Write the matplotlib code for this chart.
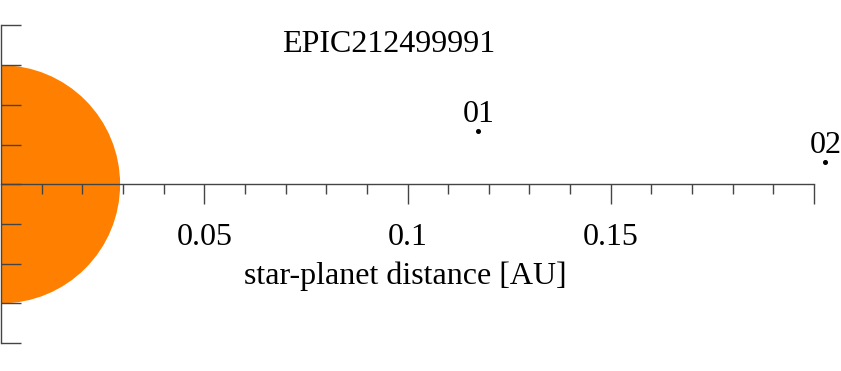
import numpy as np
import matplotlib
matplotlib.use("Agg")
import matplotlib.pyplot as plt
from matplotlib.patches import Circle

# system data
title = "EPIC212499991"
star_radius = 0.0293          # AU
planet_names = ["01", "02"]
planet_dist = [0.1174, 0.2028]    # AU
planet_y = [0.0132, 0.0056]
major_ticks = [0.05, 0.1, 0.15, 0.2]
major_labels = ["0.05", "0.1", "0.15", ""]

plt.rcParams["font.family"] = ["Liberation Serif", "DejaVu Serif"]

W, H = 841, 371
FS = 23
fig = plt.figure(figsize=(W / 100, H / 100), dpi=100)
ax_left, ax_w = 1, 813
ax = fig.add_axes([ax_left / W, 0, ax_w / W, 1])

scale = ax_w / 0.2  # px per AU
y_axis_px = 184.3
ax.set_xlim(0, 0.2)
ax.set_ylim(-(H - y_axis_px) / scale, y_axis_px / scale)

star = Circle((0, 0), star_radius, color="#FF8000", lw=0, zorder=1)
ax.add_patch(star)

ax.plot(planet_dist, planet_y, "o", color="black", ms=2.6, clip_on=False, zorder=3)
for name, x, y in zip(planet_names, planet_dist, planet_y):
    ax.annotate(name, (x, y), xytext=(0, 6.5), textcoords="offset points",
                ha="center", va="baseline", fontsize=FS, annotation_clip=False)

for s in ["top", "right"]:
    ax.spines[s].set_visible(False)
ax.spines["bottom"].set_position(("data", 0))
ax.spines["left"].set_position(("data", 0))
ax.spines["bottom"].set_bounds(0, 0.2)
ax.spines["left"].set_bounds(-4 * star_radius / 3, 4 * star_radius / 3)
for s in ["bottom", "left"]:
    ax.spines[s].set_color("#444444")
    ax.spines[s].set_linewidth(1.0)

ax.set_xticks(major_ticks)
ax.set_xticklabels(major_labels, fontsize=FS)
ax.set_xticks([m / 100 for m in range(1, 20) if m % 5 != 0], minor=True)
ax.tick_params(axis="x", which="major", direction="out", length=14.4, width=1.0,
               color="#444444", pad=13.5)
ax.tick_params(axis="x", which="minor", direction="out", length=7.2, width=1.0,
               color="#444444")

ax.set_yticks([k * star_radius / 3 for k in range(-4, 5)])
ax.set_yticklabels([])
ax.tick_params(axis="y", which="major", direction="in", length=14.4, width=1.0,
               color="#444444")

ax.set_xlabel("star-planet distance [AU]", fontsize=FS)
ax.xaxis.set_label_coords(404 / ax_w, (H - 284.3) / H)
ax.xaxis.label.set_va("baseline")

fig.text(389 / W, (H - 51.7) / H, title, ha="center", va="baseline", fontsize=FS)

fig.savefig("out.png", dpi=100)
